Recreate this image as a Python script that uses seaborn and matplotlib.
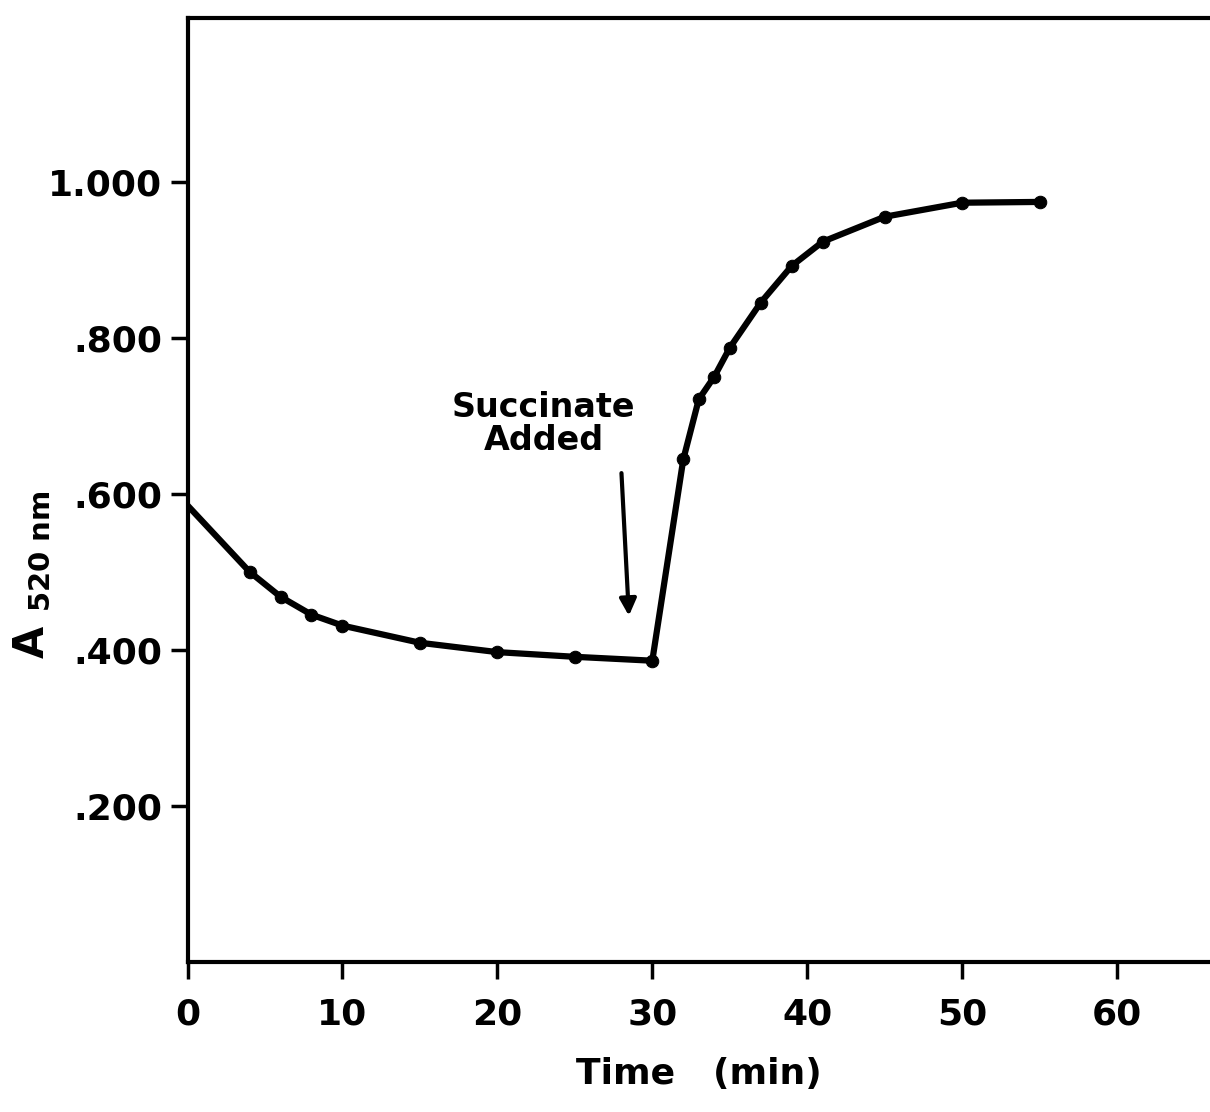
import matplotlib
matplotlib.use("Agg")
import matplotlib.pyplot as plt
import seaborn as sns
import pandas as pd

time_min = [0, 4, 6, 8, 10, 15, 20, 25, 30, 32, 33, 34, 35, 37, 39, 41, 45, 50, 55]
absorbance = [0.585, 0.500, 0.468, 0.445, 0.431, 0.409, 0.397, 0.391, 0.386,
              0.644, 0.721, 0.750, 0.787, 0.845, 0.892, 0.923, 0.955, 0.973, 0.974]
x_ticks = [0, 10, 20, 30, 40, 50, 60]
y_ticks = [0.2, 0.4, 0.6, 0.8, 1.0]
y_tick_labels = [".200", ".400", ".600", ".800", "1.000"]

sns.set_theme(style="white")
plt.rcParams['font.family'] = ['DejaVu Sans']
plt.rcParams.update({"text.color": "black", "axes.labelcolor": "black",
                     "xtick.color": "black", "ytick.color": "black"})

df = pd.DataFrame({"t": time_min, "a": absorbance})

fig = plt.figure(figsize=(12.10, 11.12), dpi=100)
ax = fig.add_axes([0.155, 0.135, 0.845, 0.849])

sns.lineplot(data=df, x="t", y="a", ax=ax, color="black", linewidth=4.5,
             marker="o", markersize=9, markevery=list(range(1, len(time_min))),
             markeredgecolor="black", estimator=None, sort=False)

ax.set_xlim(0, 66)
ax.set_ylim(0, 1.21)
ax.set_xticks(x_ticks)
ax.set_xticklabels([str(v) for v in x_ticks], fontsize=26, fontweight="bold")
ax.set_yticks(y_ticks)
ax.set_yticklabels(y_tick_labels, fontsize=26, fontweight="bold")
ax.tick_params(axis="x", direction="out", length=12, width=2.5, color="black",
               bottom=True, pad=14)
ax.tick_params(axis="y", direction="out", length=12, width=2.5, color="black",
               left=True, pad=6)

for side in ["left", "bottom", "top"]:
    ax.spines[side].set_visible(True)
    ax.spines[side].set_linewidth(3)
    ax.spines[side].set_color("black")
ax.spines["right"].set_visible(False)

ax.set_xlabel("Time   (min)", fontsize=26, fontweight="bold", labelpad=18)
ax.set_ylabel("")
fig.text(32 / 1210, 1 - 575 / 1112, r"A $_{\mathbf{520\ nm}}$", rotation=90,
         ha="center", va="center", fontsize=30, fontweight="bold")

ax.text(23.0, 0.69, "Succinate\nAdded", ha="center", va="center",
        fontsize=24, fontweight="bold", linespacing=1.0)
ax.annotate("", xy=(28.5, 0.44), xytext=(28.0, 0.63),
            arrowprops=dict(arrowstyle="-|>", color="black", lw=3,
                            mutation_scale=25))

fig.savefig("out.png", dpi=100, facecolor="white")
